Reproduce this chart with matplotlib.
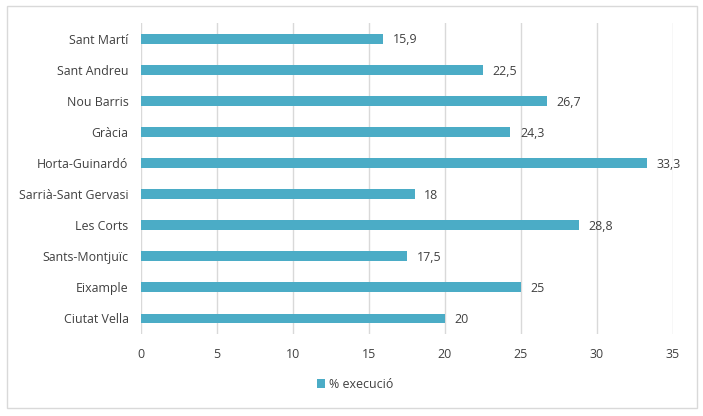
import matplotlib.pyplot as plt
from matplotlib.patches import Rectangle

districtes = ['Ciutat Vella', 'Eixample', 'Sants-Montjuïc', 'Les Corts', 'Sarrià-Sant Gervasi',
              'Horta-Guinardó', 'Gràcia', 'Nou Barris', 'Sant Andreu', 'Sant Martí']
execucio = [20, 25, 17.5, 28.8, 18, 33.3, 24.3, 26.7, 22.5, 15.9]
etiquetes = ['20', '25', '17,5', '28,8', '18', '33,3', '24,3', '26,7', '22,5', '15,9']

color_barra = '#4BACC6'
gris_text = '#404040'
gris_linia = '#D9D9D9'

plt.rcParams['font.family'] = ['Open Sans', 'DejaVu Sans']

fig = plt.figure(figsize=(7.03, 4.16), dpi=100)
ax = fig.add_axes([0.2006, 0.197, 0.7567, 0.7477])

# marc del grafic
fig.patches.append(Rectangle((7 / 703, 1 - 408 / 416), 690 / 703, 402 / 416,
                             transform=fig.transFigure, fill=False,
                             edgecolor=gris_linia, linewidth=1))

barres = ax.barh(range(len(districtes)), execucio, height=0.32, color=color_barra,
                 label='% execució', zorder=3)

for i, v in enumerate(execucio):
    ax.annotate(etiquetes[i], (v, i), xytext=(7, -1), textcoords='offset points',
                va='center', ha='left', fontsize=8.9, color=gris_text)

ax.set_xlim(0, 35)
ax.set_ylim(-0.5, len(districtes) - 0.5)
ax.set_xticks(range(0, 36, 5))
ax.set_yticks(range(len(districtes)))
ax.set_yticklabels(districtes)
ax.tick_params(axis='both', length=0, labelsize=8.9, colors=gris_text)
ax.tick_params(axis='x', pad=10)
ax.tick_params(axis='y', pad=9)
ax.grid(axis='x', color=gris_linia, linewidth=1, zorder=0)
for s in ax.spines.values():
    s.set_visible(False)

fig.legend(handles=[barres], labels=['% execució'], loc='center',
           bbox_to_anchor=(355 / 703, 1 - 384 / 416), frameon=False, fontsize=8.9,
           labelcolor=gris_text, handlelength=0.7, handleheight=0.7, handletextpad=0.3)

plt.savefig('out.png', dpi=100)
